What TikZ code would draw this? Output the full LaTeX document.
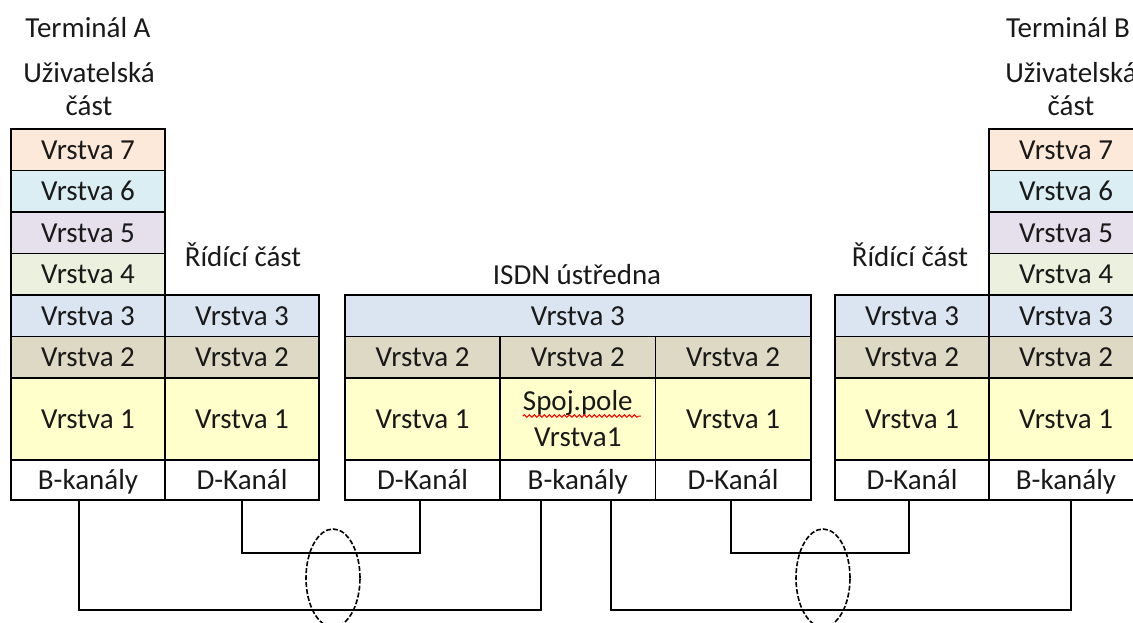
\documentclass[tikz,border=0pt]{standalone}
\usepackage{xcolor}
\usepackage{fontspec}
\setmainfont{Carlito}
\usepackage{tikz}
\usetikzlibrary{positioning,shapes.geometric,decorations.pathmorphing}

\definecolor{vr7}{HTML}{FDE9D9}
\definecolor{vr6}{HTML}{DAEEF3}
\definecolor{vr5}{HTML}{E5E0EC}
\definecolor{vr4}{HTML}{EBF1DE}
\definecolor{vr3}{HTML}{DBE5F1}
\definecolor{vr2}{HTML}{DDD9C4}
\definecolor{vr1}{HTML}{FFFFCC}

\begin{document}
\begin{tikzpicture}[x=0.5pt,y=-0.5pt,
font=\fontsize{14.5}{16.5}\selectfont,
layer/.style={draw, line width=0.9pt, inner sep=0pt, outer sep=0pt, minimum width=77pt, minimum height=20.75pt, text height=10.5pt, text depth=1.2pt, text=black!90},
v7/.style={layer, fill=vr7}, v6/.style={layer, fill=vr6}, v5/.style={layer, fill=vr5},
v4/.style={layer, fill=vr4}, v3/.style={layer, fill=vr3}, v2/.style={layer, fill=vr2},
v1/.style={layer, fill=vr1, minimum height=41pt},
ch/.style={layer, fill=white, minimum height=20pt},
wide/.style={minimum width=77.6pt},
lbl/.style={inner sep=0pt, align=center, text=black!90},
link/.style={line width=0.9pt},
twist/.style={draw, ellipse, dash pattern=on 2.5pt off 1pt, line width=0.8pt, minimum width=27pt, minimum height=49pt, inner sep=0pt}]
\useasboundingbox (0,0) rectangle (1133,622);
\clip (0,0) rectangle (1133,622);

% terminal A
\node[lbl] (tA) at (88,28) {Terminál A};
\node[lbl] (uA) at (89,89) {Uživatelská\\část};
\node[v7, anchor=north west] (a7) at (11,129) {Vrstva 7};
\node[v6, below=0pt of a7] (a6) {Vrstva 6};
\node[v5, below=0pt of a6] (a5) {Vrstva 5};
\node[v4, below=0pt of a5] (a4) {Vrstva 4};
\node[v3, below=0pt of a4] (a3) {Vrstva 3};
\node[v2, below=0pt of a3] (a2) {Vrstva 2};
\node[v1, below=0pt of a2] (a1) {Vrstva 1};
\node[ch, below=0pt of a1] (aB) {B-kanály};
\node[lbl] (rA) at (243,255) {Řídící část};
\node[v3, right=0pt of a3] (ra3) {Vrstva 3};
\node[v2, right=0pt of a2] (ra2) {Vrstva 2};
\node[v1, right=0pt of a1] (ra1) {Vrstva 1};
\node[ch, right=0pt of aB] (aD) {D-Kanál};

% ISDN
\node[lbl] (isdn) at (577,275) {ISDN ústředna};
\node[v3, minimum width=232.8pt, anchor=north west] (i3) at (345,295) {Vrstva 3};
\node[v2, wide, anchor=north west] (i2a) at (i3.south west) {Vrstva 2};
\node[v2, wide, right=0pt of i2a] (i2b) {Vrstva 2};
\node[v2, wide, right=0pt of i2b] (i2c) {Vrstva 2};
\node[v1, wide, below=0pt of i2a] (i1a) {Vrstva 1};
\node[v1, wide, below=0pt of i2b, align=center, text height=, text depth=] (i1b) {Spoj.pole\\[1.5pt]Vrstva1};
\node[v1, wide, below=0pt of i2c] (i1c) {Vrstva 1};
\node[ch, wide, below=0pt of i1a] (iD1) {D-Kanál};
\node[ch, wide, below=0pt of i1b] (iB) {B-kanály};
\node[ch, wide, below=0pt of i1c] (iD2) {D-Kanál};
\draw[red, line width=0.5pt, decorate, decoration={snake, amplitude=0.6pt, segment length=2.5pt}]
  ([shift={(-27.5pt,1.5pt)}]i1b.center) -- ([shift={(31.5pt,1.5pt)}]i1b.center);

% terminal B
\node[lbl] (tB) at (1068,28) {Terminál B};
\node[lbl] (uB) at (1071,89) {Uživatelská\\část};
\node[v7, anchor=north west] (b7) at (989,129) {Vrstva 7};
\node[v6, below=0pt of b7] (b6) {Vrstva 6};
\node[v5, below=0pt of b6] (b5) {Vrstva 5};
\node[v4, below=0pt of b5] (b4) {Vrstva 4};
\node[v3, below=0pt of b4] (b3) {Vrstva 3};
\node[v2, below=0pt of b3] (b2) {Vrstva 2};
\node[v1, below=0pt of b2] (b1) {Vrstva 1};
\node[ch, below=0pt of b1] (bB) {B-kanály};
\node[lbl] (rB) at (910,255) {Řídící část};
\node[v3, left=0pt of b3] (rb3) {Vrstva 3};
\node[v2, left=0pt of b2] (rb2) {Vrstva 2};
\node[v1, left=0pt of b1] (rb1) {Vrstva 1};
\node[ch, left=0pt of bB] (bD) {D-Kanál};

% lines
\draw[link] ([xshift=-4.5pt]aB.south) -- ++(0,-55pt) -| ([xshift=-18.5pt]iB.south);
\draw[link] (aD.south) -- ++(0,-26.5pt) -| ([xshift=-1.5pt]iD1.south);
\draw[link] ([xshift=-1pt]iD2.south) -- ++(0,-26.5pt) -| ([xshift=-1.5pt]bD.south);
\draw[link] ([xshift=16.5pt]iB.south) -- ++(0,-55pt) -| ([xshift=2.5pt]bB.south);
\node[twist] (tw1) at (333,578) {};
\node[twist] (tw2) at (823,578) {};
\end{tikzpicture}
\end{document}
